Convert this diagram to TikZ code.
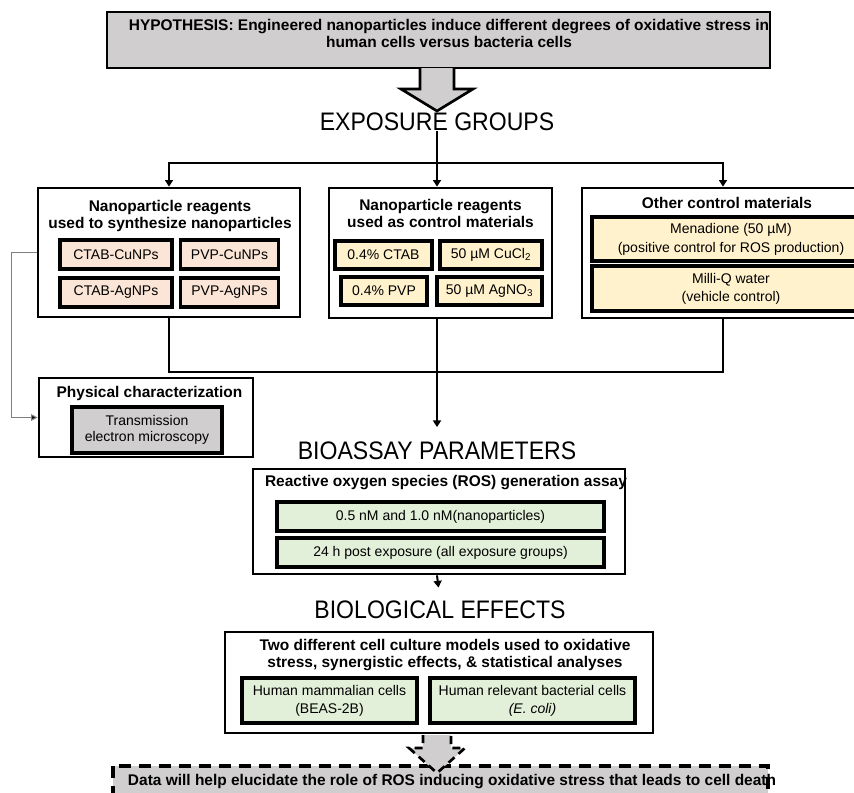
\documentclass[tikz,border=0pt]{standalone}
\usepackage{fontspec}
\setmainfont{Liberation Sans}
\newfontfamily\narrowfont[FakeStretch=0.91]{Liberation Sans}
\usetikzlibrary{arrows.meta}
\definecolor{hypgray}{HTML}{D0CECE}
\definecolor{peach}{HTML}{FBE5D6}
\definecolor{paleyellow}{HTML}{FFF2CC}
\definecolor{palegreen}{HTML}{E2EFD9}
\definecolor{linegray}{HTML}{7F7F7F}
\begin{document}
\begin{tikzpicture}[x=0.75pt,y=-0.75pt,
  wh/.style 2 args={minimum width=#1*0.75pt, minimum height=#2*0.75pt},
  outerbox/.style={draw, line width=2pt, fill=white, inner sep=0pt},
  innerbox/.style={draw, line width=2.4pt, inner sep=0pt, align=center,
    font=\fontsize{10.5pt}{13.5pt}\selectfont},
  titletext/.style={align=center, inner sep=0pt,
    font=\bfseries\fontsize{11.6pt}{12.75pt}\selectfont},
  bigtext/.style={inner sep=0pt, font=\narrowfont\fontsize{19pt}{22pt}\selectfont},
  conn/.style={line width=1.5pt},
  arr/.style={conn, -{Triangle[length=5pt,width=6pt]}},
  grayarr/.style={draw=linegray, line width=0.8pt, -{Triangle[length=5pt,width=5pt,fill=black]}},
]
\useasboundingbox (0,0) rectangle (854,793);

% hypothesis
\node[draw, line width=2pt, fill=hypgray, wh={663}{56}, inner sep=0pt] (hyp) at (438.5,40) {};
\node[titletext] (hyptext) at (449,33.5) {HYPOTHESIS: Engineered nanoparticles induce different degrees of oxidative stress in\\human cells versus bacteria cells};
\draw[line width=2pt, fill=hypgray, line join=miter]
  (420,68) -- (420,89) -- (401,89) -- (437,111) -- (473,89) -- (454,89) -- (454,68);

\node[bigtext] (EG) at (437,122) {EXPOSURE GROUPS};

% exposure group boxes
\node[outerbox, wh={262}{129}] (L) at (169,252.5) {};
\node[titletext] (Lt) at (170,215.5) {Nanoparticle reagents\\used to synthesize nanoparticles};
\node[innerbox, fill=peach, wh={112}{29}] (L1) at (116,254.5) {CTAB-CuNPs};
\node[innerbox, fill=peach, wh={98}{29}] (L2) at (229.5,254.5) {PVP-CuNPs};
\node[innerbox, fill=peach, wh={112}{29}] (L3) at (116,292.5) {CTAB-AgNPs};
\node[innerbox, fill=peach, wh={98}{29}] (L4) at (229.5,292.5) {PVP-AgNPs};

\node[outerbox, wh={223}{130}] (M) at (440.5,253) {};
\node[titletext] (Mt) at (440.5,213.5) {Nanoparticle reagents\\used as control materials};
\node[innerbox, fill=paleyellow, wh={97}{28}] (M1) at (383.5,255) {0.4\% CTAB};
\node[innerbox, fill=paleyellow, wh={102}{28}] (M2) at (491,255) {50 µM CuCl\textsubscript{2}};
\node[innerbox, fill=paleyellow, wh={86}{28}] (M3) at (384,291) {0.4\% PVP};
\node[innerbox, fill=paleyellow, wh={105}{28}] (M4) at (489.5,291) {50 µM AgNO\textsubscript{3}};

\node[outerbox, wh={298}{130}] (R) at (731,253) {};
\node[titletext] (Rt) at (727,203) {Other control materials};
\node[innerbox, fill=paleyellow, wh={278}{44}, font=\fontsize{10.5pt}{14.25pt}\selectfont] (R1) at (731,239) {Menadione (50 µM)\\(positive control for ROS production)};
\node[innerbox, fill=paleyellow, wh={278}{45}] (R2) at (731,288.5) {Milli-Q water\\(vehicle control)};

% connectors top
\coordinate (J1) at (437,163);
\draw[conn] (EG.south) -- (J1);
\draw[arr] (J1) -| (L.north);
\draw[arr] (J1) -- (J1 |- M.north);
\draw[arr] (J1) -| ([xshift=-6pt]R.north);

% physical characterization
\node[outerbox, wh={214}{79}] (P) at (146,417.5) {};
\node[titletext] (Pt) at (149.5,393) {Physical characterization};
\node[innerbox, fill=hypgray, wh={150}{46}, font=\fontsize{10.5pt}{12pt}\selectfont] (P1) at (147,430) {Transmission\\electron microscopy};
\draw[grayarr] (L.west) -- ++(-25,0) |- (P.west);

% convergence
\coordinate (J2) at (437,372);
\draw[conn] (L.south) |- (J2) -| ([xshift=-6pt]R.south);

\node[bigtext] (BP) at (437,451) {BIOASSAY PARAMETERS};
\draw[arr, shorten >=11pt] (M.south -| J2) -- (BP.north);

% ROS
\node[outerbox, wh={372}{105}] (ROS) at (439,521.5) {};
\node[titletext] (ROSt) at (446,483) {Reactive oxygen species (ROS) generation assay};
\node[innerbox, fill=palegreen, wh={327}{29}] (ROS1) at (440.5,516.5) {0.5 nM and 1.0 nM(nanoparticles)};
\node[innerbox, fill=palegreen, wh={327}{29}] (ROS2) at (440.5,552.5) {24 h post exposure (all exposure groups)};

\node[bigtext] (BE) at (440,610) {BIOLOGICAL EFFECTS};
\draw[arr, shorten >=10pt] (ROS.south -| J2) -- (BE.north);

% biological effects
\node[outerbox, wh={428}{101}] (BB) at (439,682.5) {};
\node[titletext] (BBt) at (445,655.5) {Two different cell culture models used to oxidative\\stress, synergistic effects, \& statistical analyses};
\node[innerbox, fill=palegreen, wh={175}{45}] (BB1) at (329.5,700.5) {Human mammalian cells\\(BEAS-2B)};
\node[innerbox, fill=palegreen, wh={205}{45}] (BB2) at (532.5,700.5) {Human relevant bacterial cells\\\textit{(E. coli)}};

% conclusion
\draw[fill=hypgray, line width=2.4pt, dash pattern=on 9pt off 6pt] (113,766) rectangle (768,810);
\node[titletext] (D) at (452,782) {Data will help elucidate the role of ROS inducing oxidative stress that leads to cell death};
\draw[fill=hypgray, line width=2pt, dash pattern=on 6pt off 4pt, line join=miter]
  (423,735) -- (423,748) -- (409,748) -- (437,773) -- (465,748) -- (451,748) -- (451,735);
\end{tikzpicture}
\end{document}
